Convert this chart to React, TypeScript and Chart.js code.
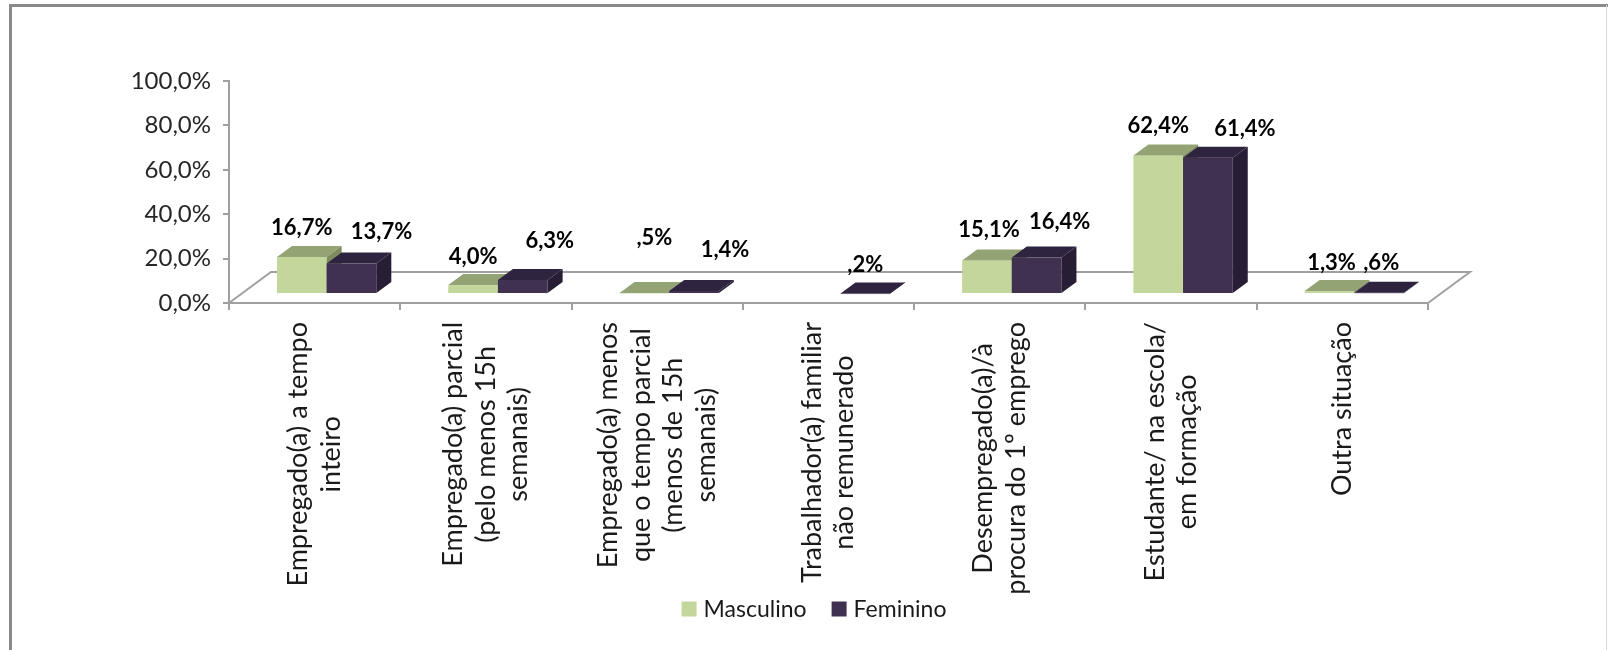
import React, { useEffect, useRef } from 'react';
import { Chart, registerables } from 'chart.js';

Chart.register(...registerables);

// ---------- data ----------
const categories: string[][] = [
  ['Empregado(a) a tempo', 'inteiro'],
  ['Empregado(a) parcial', '(pelo menos 15h', 'semanais)'],
  ['Empregado(a) menos', 'que o tempo parcial', '(menos de 15h', 'semanais)'],
  ['Trabalhador(a) familiar', 'não remunerado'],
  ['Desempregado(a)/à', 'procura do 1º emprego'],
  ['Estudante/ na escola/', 'em formação'],
  ['Outra situação'],
];
const seriesNames = ['Masculino', 'Feminino'];
const masculino: (number | null)[] = [16.7, 4.0, 0.5, null, 15.1, 62.4, 1.3];
const feminino: (number | null)[] = [13.7, 6.3, 1.4, 0.2, 16.4, 61.4, 0.6];
const yMin = 0;
const yMax = 100;
const yStep = 20;

// label nudges (style only: offsets of each value label from its bar top)
const labelNudgeX = [
  [0, 0, 10, 0, 2, 0, 2],
  [30, 27, 31, 0, 23, 37, 2],
];
const labelNudgeY = [
  [-29, -28, -55, 0, -31, -30, -28],
  [-32, -39, -41, -29, -36, -29, -30],
];

// ---------- style ----------
const FONT = 'Lato, "Noto Sans", sans-serif';
const faces = [
  { front: '#C3D69B', top: '#94A373', side: '#7D8B5F' },
  { front: '#403151', top: '#2F2440', side: '#271D34' },
];
const AXIS = '#a0a0a0';
const SHIFT = { dx: 12, dy: -9 };
const DEPTH = { dx: 15, dy: -11 };
const FLOOR = { dx: 42, dy: -31 };
const W = 1608;
const H = 650;
const PAD = { left: 100, right: 180, top: 81, bottom: 20 };
const PLOT_BOTTOM = 303;
const LEGEND = { centerX: 814, centerY: 609, box: 15, gap: 7, itemGap: 25, size: 23 };

const fmtPct = (v: number) => v.toFixed(1).replace('.', ',').replace(/^0,/, ',') + '%';

const threeD = {
  id: 'threeD',
  beforeDraw(chart: any) {
    const ctx = chart.ctx;
    ctx.save();
    ctx.strokeStyle = '#8a8a8a';
    ctx.lineWidth = 3;
    ctx.beginPath();
    ctx.moveTo(10.5, H);
    ctx.lineTo(10.5, 5.5);
    ctx.lineTo(W, 5.5);
    ctx.stroke();
    ctx.strokeStyle = '#d6d6d6';
    ctx.lineWidth = 1;
    ctx.beginPath();
    ctx.moveTo(W - 1.5, 5);
    ctx.lineTo(W - 1.5, H);
    ctx.stroke();
    ctx.restore();
  },
  beforeDatasetsDraw(chart: any) {
    const ctx = chart.ctx;
    const { left, right, bottom } = chart.chartArea;
    ctx.save();
    ctx.strokeStyle = AXIS;
    ctx.lineWidth = 2;
    ctx.beginPath();
    ctx.moveTo(left, bottom);
    ctx.lineTo(left + FLOOR.dx, bottom + FLOOR.dy);
    ctx.lineTo(right + FLOOR.dx, bottom + FLOOR.dy);
    ctx.lineTo(right, bottom);
    ctx.stroke();
    ctx.restore();
  },
  beforeDatasetDraw() {
    return false;
  },
  afterDatasetsDraw(chart: any) {
    const ctx = chart.ctx;
    const n = chart.data.labels.length;
    const labels: { text: string; x: number; y: number }[] = [];
    ctx.save();
    for (let i = 0; i < n; i++) {
      for (let d = 0; d < chart.data.datasets.length; d++) {
        const v = chart.data.datasets[d].data[i];
        if (v === null || v === undefined || v === 0) continue;
        const el = chart.getDatasetMeta(d).data[i];
        const { x, y, base, width } = el.getProps(['x', 'y', 'base', 'width'], true);
        const x0 = x - width / 2 + SHIFT.dx;
        const x1 = x + width / 2 + SHIFT.dx;
        const yt = y + SHIFT.dy;
        const yb = base + SHIFT.dy;
        const f = faces[d];
        ctx.fillStyle = f.front;
        ctx.fillRect(x0, yt, x1 - x0, Math.max(yb - yt, 0.5));
        ctx.fillStyle = f.top;
        ctx.beginPath();
        ctx.moveTo(x0, yt);
        ctx.lineTo(x1, yt);
        ctx.lineTo(x1 + DEPTH.dx, yt + DEPTH.dy);
        ctx.lineTo(x0 + DEPTH.dx, yt + DEPTH.dy);
        ctx.closePath();
        ctx.fill();
        ctx.fillStyle = f.side;
        ctx.beginPath();
        ctx.moveTo(x1, yt);
        ctx.lineTo(x1 + DEPTH.dx, yt + DEPTH.dy);
        ctx.lineTo(x1 + DEPTH.dx, yb + DEPTH.dy);
        ctx.lineTo(x1, yb);
        ctx.closePath();
        ctx.fill();
        labels.push({
          text: fmtPct(v),
          x: x + SHIFT.dx + labelNudgeX[d][i],
          y: yt + labelNudgeY[d][i],
        });
      }
    }
    ctx.fillStyle = '#000';
    ctx.font = `bold 22px ${FONT}`;
    ctx.textAlign = 'center';
    ctx.textBaseline = 'middle';
    labels.forEach((l) => ctx.fillText(l.text, l.x, l.y));
    ctx.restore();
  },
  afterDraw(chart: any) {
    const ctx = chart.ctx;
    const xs = chart.scales.x;
    // category labels, rotated, top-anchored and centred line by line
    const top = chart.chartArea.bottom + 19;
    const lineGap = 32.5;
    ctx.save();
    ctx.font = `27px ${FONT}`;
    ctx.fillStyle = '#1a1a1a';
    ctx.textAlign = 'center';
    ctx.textBaseline = 'middle';
    categories.forEach((lines, i) => {
      const cx = xs.getPixelForValue(i);
      const w = Math.max(...lines.map((s) => ctx.measureText(s).width));
      const cy = top + w / 2;
      lines.forEach((s, j) => {
        const lx = cx + (j - (lines.length - 1) / 2) * lineGap;
        ctx.save();
        ctx.translate(lx, cy);
        ctx.rotate(-Math.PI / 2);
        ctx.fillText(s, 0, 0);
        ctx.restore();
      });
    });
    ctx.restore();

    // legend
    ctx.save();
    ctx.font = `${LEGEND.size}px ${FONT}`;
    ctx.textBaseline = 'middle';
    ctx.textAlign = 'left';
    const items = chart.data.datasets.map((ds: any) => ({
      text: ds.label,
      color: ds.backgroundColor,
      w: ctx.measureText(ds.label).width,
    }));
    const total =
      items.reduce((a: number, it: any) => a + LEGEND.box + LEGEND.gap + it.w, 0) +
      LEGEND.itemGap * (items.length - 1);
    let lx = LEGEND.centerX - total / 2;
    items.forEach((it: any) => {
      ctx.fillStyle = it.color;
      ctx.fillRect(lx, LEGEND.centerY - LEGEND.box / 2, LEGEND.box, LEGEND.box);
      lx += LEGEND.box + LEGEND.gap;
      ctx.fillStyle = '#1a1a1a';
      ctx.fillText(it.text, lx, LEGEND.centerY + 1);
      lx += it.w + LEGEND.itemGap;
    });
    ctx.restore();
  },
};

export default function App() {
  const ref = useRef<HTMLCanvasElement | null>(null);
  useEffect(() => {
    document.body.style.margin = '0';
    if (!ref.current) return;
    const chart = new Chart(ref.current, {
      type: 'bar',
      data: {
        labels: categories.map((c) => c.join(' ')),
        datasets: [
          {
            label: seriesNames[0],
            data: masculino,
            backgroundColor: faces[0].front,
            borderWidth: 0,
            categoryPercentage: 0.58,
            barPercentage: 1,
          },
          {
            label: seriesNames[1],
            data: feminino,
            backgroundColor: faces[1].front,
            borderWidth: 0,
            categoryPercentage: 0.58,
            barPercentage: 1,
          },
        ],
      },
      options: {
        responsive: false,
        animation: false,
        devicePixelRatio: 1,
        layout: { padding: PAD },
        plugins: {
          tooltip: { enabled: false },
          legend: { display: false },
        },
        scales: {
          x: {
            grid: {
              offset: true,
              drawOnChartArea: false,
              drawTicks: true,
              tickLength: 7,
              color: AXIS,
              lineWidth: 2,
            },
            border: { display: true, color: AXIS, width: 2 },
            ticks: { display: false },
            afterFit: (s: any) => {
              s.height = H - PAD.bottom - PLOT_BOTTOM;
            },
          },
          y: {
            min: yMin,
            max: yMax,
            grid: {
              drawOnChartArea: false,
              drawTicks: true,
              tickLength: 6,
              color: AXIS,
              lineWidth: 2,
            },
            border: { display: true, color: AXIS, width: 2 },
            ticks: {
              stepSize: yStep,
              padding: 12,
              color: '#262626',
              font: { family: FONT, size: 24 },
              callback: (v: any) => Number(v).toFixed(1).replace('.', ',') + '%',
            },
            afterFit: (s: any) => {
              s.width = 129;
            },
          },
        },
      },
      plugins: [threeD],
    });
    return () => chart.destroy();
  }, []);
  return (
    <div style={{ width: W, height: H, position: 'relative', background: '#fff' }}>
      <canvas ref={ref} width={W} height={H} style={{ display: 'block' }} />
    </div>
  );
}
